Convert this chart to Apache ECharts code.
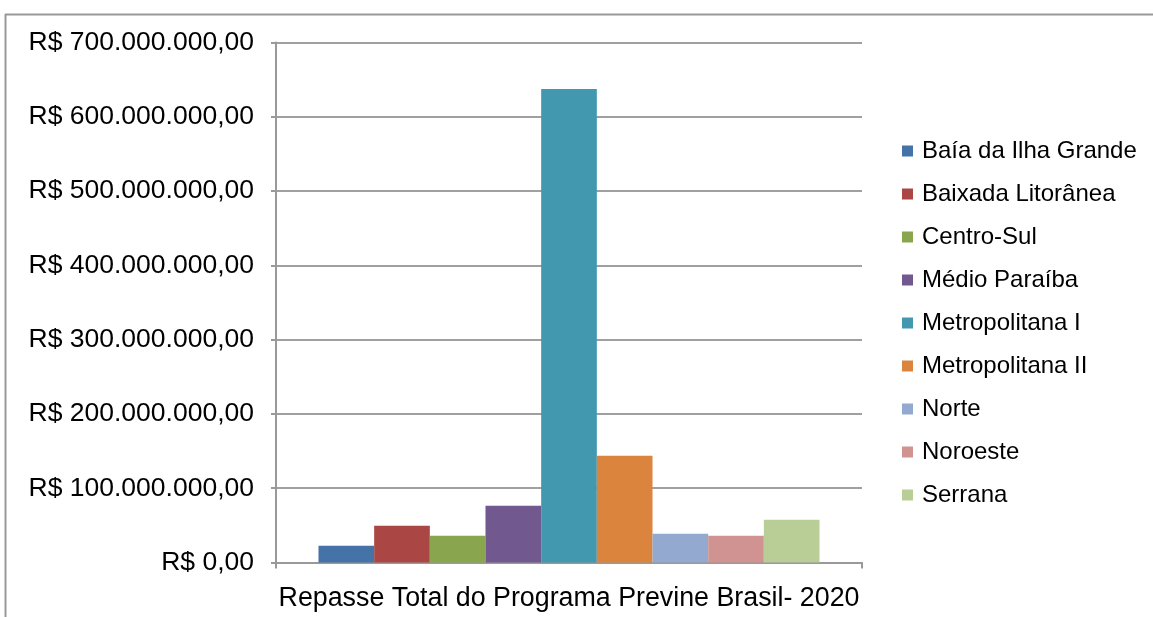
<!DOCTYPE html>
<html>
<head>
<meta charset="utf-8">
<script src="https://cdn.jsdelivr.net/npm/echarts@6/dist/echarts.min.js"></script>
<style>
html,body{margin:0;padding:0;background:#fff;}
#chart{width:1153px;height:617px;}
</style>
</head>
<body>
<div id="chart"></div>
<script>
const categories = ['Repasse Total do Programa Previne Brasil- 2020'];
const seriesNames = ['Baía da Ilha Grande','Baixada Litorânea','Centro-Sul','Médio Paraíba','Metropolitana I','Metropolitana II','Norte','Noroeste','Serrana'];
const seriesValues = [22500000, 49400000, 35900000, 76300000, 637500000, 143600000, 38600000, 35900000, 57400000];
const seriesColors = ['#4572A7','#AA4643','#89A54E','#71588F','#4198AF','#DB843D','#93A9CF','#D19392','#B9CD96'];
const yTicks = [0,100000000,200000000,300000000,400000000,500000000,600000000,700000000];

function fmtBRL(v){
  const s = Math.round(v).toString().replace(/\B(?=(\d{3})+(?!\d))/g, '.');
  return 'R$ ' + s + ',00';
}

const FONT = "'Liberation Sans', Arial, sans-serif";
const chart = echarts.init(document.getElementById('chart'));
chart.setOption({
  animation: false,
  backgroundColor: '#fff',
  textStyle: {fontFamily: FONT},
  graphic: [
    {type:'line', shape:{x1:5, y1:14.5, x2:1153, y2:14.5}, style:{stroke:'#999', lineWidth:2}},
    {type:'line', shape:{x1:5.5, y1:14, x2:5.5, y2:617}, style:{stroke:'#999', lineWidth:2}}
  ],
  grid: {left: 276, right: 291, top: 42.5, bottom: 54.5, containLabel: false},
  legend: {
    orient: 'vertical',
    left: 897,
    top: 134,
    itemWidth: 11,
    itemHeight: 11,
    itemGap: 19,
    icon: 'rect',
    textStyle: {fontSize: 24, color: '#000', fontFamily: FONT, lineHeight: 24, padding: [0,0,0,4]},
    data: seriesNames
  },
  xAxis: {
    type: 'category',
    data: categories,
    axisLine: {lineStyle: {color: '#999', width: 2}},
    axisTick: {show: true, length: 6, lineStyle: {color: '#999', width: 2}},
    axisLabel: {fontSize: 26.8, color: '#000', margin: 23, fontFamily: FONT}
  },
  yAxis: {
    type: 'value',
    min: yTicks[0],
    max: yTicks[yTicks.length-1],
    interval: 100000000,
    axisLine: {show: true, lineStyle: {color: '#999', width: 2}},
    axisTick: {show: true, length: 5, lineStyle: {color: '#999', width: 2}},
    axisLabel: {fontSize: 26.5, color: '#000', margin: 22, formatter: fmtBRL, fontFamily: FONT},
    splitLine: {show: true, lineStyle: {color: '#a0a0a0', width: 2}}
  },
  series: seriesNames.map((name, i) => ({
    name: name,
    type: 'bar',
    data: [seriesValues[i]],
    itemStyle: {color: seriesColors[i]},
    barGap: '0%',
    barCategoryGap: '14.5%'
  }))
});
</script>
</body>
</html>
